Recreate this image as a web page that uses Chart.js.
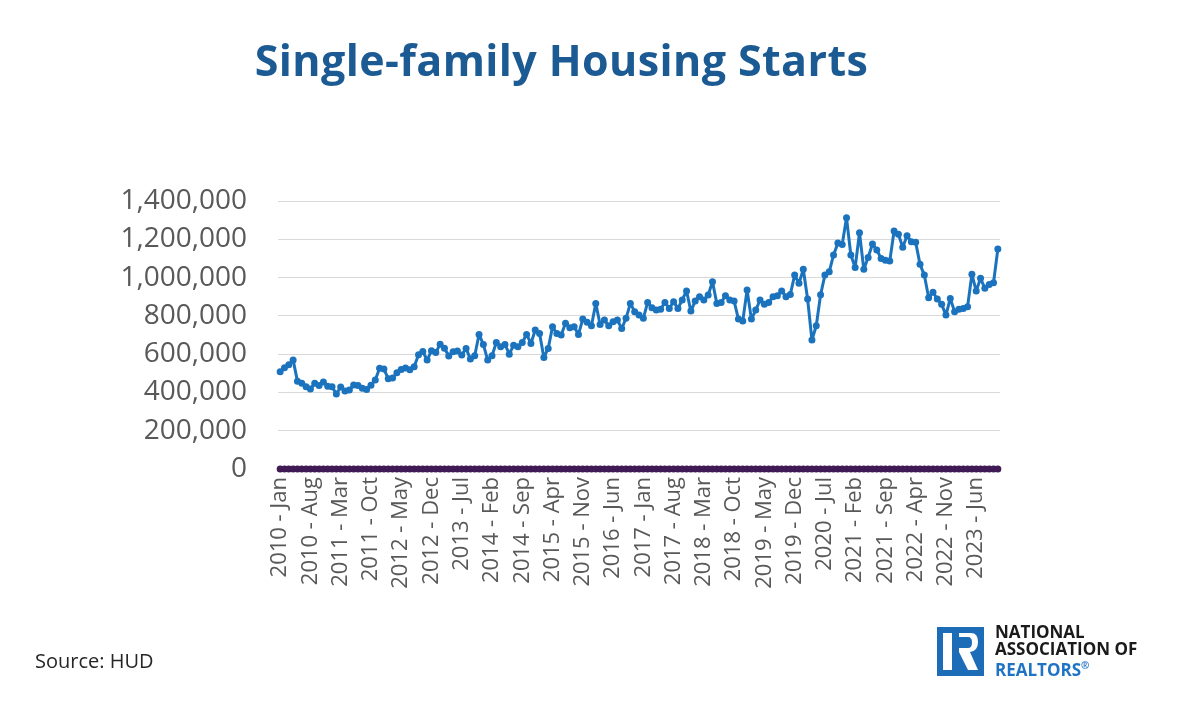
<!DOCTYPE html>
<html>
<head>
<meta charset="utf-8">
<script src="https://cdn.jsdelivr.net/npm/chart.js@4.4.1/dist/chart.umd.min.js"></script>
<style>
  html, body { margin: 0; padding: 0; background: #ffffff; }
  #wrap { position: relative; width: 1183px; height: 721px; overflow: hidden; background: #ffffff; }
  #c { position: absolute; left: 0; top: 0; }
  #title { position: absolute; left: 0; width: 1123px; top: 38px; text-align: center;
           font-family: 'Open Sans', sans-serif; font-weight: 700; font-size: 43px; line-height: 43px;
           color: #1b5a93; letter-spacing: 0.4px; }
  #source { position: absolute; left: 35px; top: 648px; font-family: 'Open Sans', sans-serif;
            font-size: 20px; line-height: 26px; color: #262626; }
  #logo { position: absolute; left: 937px; top: 627px; }
  #logotext { position: absolute; left: 995px; top: 624px; font-family: 'Open Sans', sans-serif;
              font-weight: 700; font-size: 17px; line-height: 16.5px; color: #1a1a1a; }
  #logotext .blue { color: #1f73c4; }
</style>
</head>
<body>
<div id="wrap">
  <canvas id="c" width="1183" height="721"></canvas>
  <div id="title">Single-family Housing Starts</div>
  <div id="source">Source: HUD</div>
  <svg id="logo" width="47" height="49" viewBox="0 0 47 49">
    <rect x="0" y="0" width="47" height="49" fill="#1c6cb8"/>
    <rect x="6" y="6" width="9" height="37" fill="#ffffff"/>
    <path d="M18 6 H34 Q41 6 41 15 Q41 24 33 25 L41 43 H31 L22 25 V6 Z M22 10 V21 H31 Q35 21 35 15.5 Q35 10 31 10 Z" fill="#ffffff" fill-rule="evenodd"/>
  </svg>
  <div id="logotext">NATIONAL<br>ASSOCIATION OF<br><span class="blue">REALTORS<sup style="font-size:10px">®</sup></span></div>
</div>
<script>
// ---- Data ----
const startYear = 2010;
const monthNames = ['Jan','Feb','Mar','Apr','May','Jun','Jul','Aug','Sep','Oct','Nov','Dec'];

// Single-family housing starts, Jan 2010 - Nov 2023 (SAAR)
const housingStarts = [
  // 2010
  508000, 529000, 545000, 569000, 459000, 448000, 430000, 418000, 448000, 436000, 455000, 432000,
  // 2011
  430000, 392000, 428000, 408000, 413000, 439000, 436000, 422000, 415000, 438000, 465000, 526000,
  // 2012
  522000, 472000, 475000, 503000, 520000, 528000, 518000, 534000, 597000, 614000, 569000, 618000,
  // 2013
  608000, 652000, 631000, 590000, 613000, 616000, 595000, 630000, 574000, 592000, 703000, 651000,
  // 2014
  569000, 592000, 661000, 639000, 651000, 600000, 647000, 639000, 661000, 703000, 656000, 726000,
  // 2015
  708000, 583000, 630000, 743000, 708000, 700000, 761000, 738000, 743000, 703000, 783000, 766000,
  // 2016
  748000, 865000, 755000, 778000, 748000, 769000, 778000, 734000, 787000, 865000, 822000, 804000,
  // 2017
  787000, 870000, 842000, 830000, 835000, 870000, 839000, 874000, 839000, 883000, 930000, 825000,
  // 2018
  877000, 900000, 883000, 909000, 978000, 865000, 870000, 905000, 883000, 877000, 783000, 773000,
  // 2019
  935000, 783000, 830000, 883000, 860000, 870000, 900000, 905000, 930000, 900000, 912000, 1013000,
  // 2020
  970000, 1043000, 888000, 674000, 748000, 910000, 1013000, 1030000, 1118000, 1180000, 1173000, 1312000,
  // 2021
  1118000, 1053000, 1234000, 1043000, 1105000, 1175000, 1144000, 1100000, 1091000, 1086000, 1243000, 1226000,
  // 2022
  1158000, 1218000, 1187000, 1184000, 1069000, 1013000, 895000, 923000, 888000, 860000, 804000, 891000,
  // 2023
  822000, 835000, 839000, 848000, 1017000, 930000, 996000, 944000, 964000, 973000, 1149000
];

// Second series shown in the reference: flat at zero across every month
const zeroSeries = [
  0,0,0,0,0,0,0,0,0,0,0,0,
  0,0,0,0,0,0,0,0,0,0,0,0,
  0,0,0,0,0,0,0,0,0,0,0,0,
  0,0,0,0,0,0,0,0,0,0,0,0,
  0,0,0,0,0,0,0,0,0,0,0,0,
  0,0,0,0,0,0,0,0,0,0,0,0,
  0,0,0,0,0,0,0,0,0,0,0,0,
  0,0,0,0,0,0,0,0,0,0,0,0,
  0,0,0,0,0,0,0,0,0,0,0,0,
  0,0,0,0,0,0,0,0,0,0,0,0,
  0,0,0,0,0,0,0,0,0,0,0,0,
  0,0,0,0,0,0,0,0,0,0,0,0,
  0,0,0,0,0,0,0,0,0,0,0,0,
  0,0,0,0,0,0,0,0,0,0,0
];

const yTickValues = [0, 200000, 400000, 600000, 800000, 1000000, 1200000, 1400000];
const labelEvery = 7;

// Category labels "YYYY - Mon"
const categories = housingStarts.map((_, i) =>
  (startYear + Math.floor(i / 12)) + ' - ' + monthNames[i % 12]);

const ctx = document.getElementById('c').getContext('2d');
new Chart(ctx, {
  type: 'line',
  data: {
    labels: categories,
    datasets: [
      {
        label: 'Single-family starts',
        data: housingStarts,
        borderColor: '#1b73be',
        backgroundColor: '#1b73be',
        borderWidth: 3,
        borderJoinStyle: 'round',
        borderCapStyle: 'round',
        pointRadius: 3.5,
        pointBorderWidth: 0,
        pointBackgroundColor: '#1b73be',
        tension: 0,
        clip: false
      },
      {
        label: 'Zero',
        data: zeroSeries,
        borderColor: '#3f1a55',
        backgroundColor: '#3f1a55',
        borderWidth: 3,
        borderJoinStyle: 'round',
        pointRadius: 3.5,
        pointBorderWidth: 0,
        pointBackgroundColor: '#3f1a55',
        tension: 0,
        clip: false
      }
    ]
  },
  options: {
    responsive: false,
    devicePixelRatio: 1,
    animation: false,
    layout: { padding: { top: 201, right: 183, left: 0, bottom: 0 } },
    plugins: {
      legend: { display: false },
      title: { display: false },
      tooltip: { enabled: false }
    },
    scales: {
      x: {
        type: 'category',
        offset: true,
        grid: { display: false, drawTicks: false },
        border: { display: false },
        ticks: {
          autoSkip: false,
          minRotation: 90,
          maxRotation: 90,
          padding: 8,
          color: '#595959',
          font: { family: "'Open Sans', sans-serif", size: 22 },
          callback: function (value, index) {
            return index % labelEvery === 0 ? categories[index] : '';
          }
        },
        afterFit: function (scale) { scale.height = 721 - 469; }
      },
      y: {
        min: 0,
        max: 1400000,
        afterBuildTicks: function (scale) {
          scale.ticks = yTickValues.map(v => ({ value: v }));
        },
        grid: { color: '#d9d9d9', lineWidth: 1, drawTicks: false },
        border: { display: false },
        ticks: {
          padding: 31,
          color: '#595959',
          font: { family: "'Open Sans', sans-serif", size: 28 },
          callback: function (value) { return value.toLocaleString('en-US'); }
        },
        afterFit: function (scale) { scale.width = 278; }
      }
    }
  }
});
</script>
</body>
</html>
